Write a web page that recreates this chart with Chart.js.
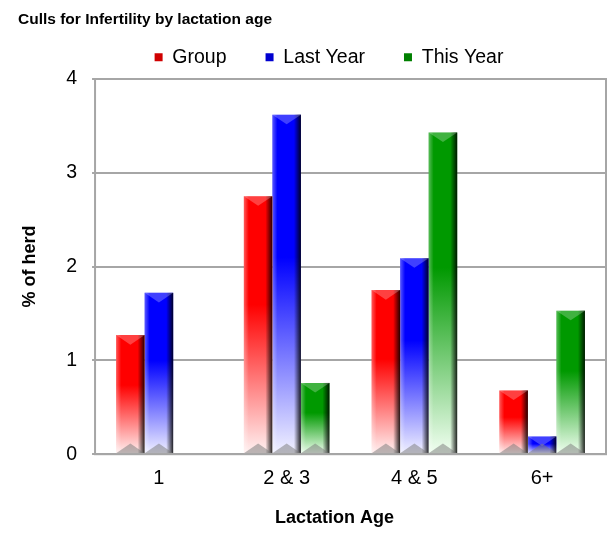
<!DOCTYPE html>
<html>
<head>
<meta charset="utf-8">
<script src="https://cdn.jsdelivr.net/npm/chart.js@4.4.1/dist/chart.umd.min.js"></script>
<style>
  html, body { margin: 0; padding: 0; background: #fff; }
  #wrap { width: 613px; height: 534px; }
</style>
</head>
<body>
<div id="wrap"><canvas id="grafico"></canvas></div>
<script>
// datos
const categorias = ["1", "2 & 3", "4 & 5", "6+"];
const grupo = [1.27, 2.75, 1.75, 0.68];
const anoPasado = [1.72, 3.62, 2.09, 0.19];
const esteAno = [null, 0.76, 3.43, 1.53];
const ticksY = [0, 1, 2, 3, 4];

const fuente = "'Liberation Sans', Arial, sans-serif";

// degradado vertical: color arriba, casi blanco abajo
function degradado(color, claro) {
  return function (ctx) {
    const chart = ctx.chart;
    const y = chart.scales.y;
    if (!y || ctx.raw == null) return color;
    const top = y.getPixelForValue(ctx.raw);
    const bottom = y.getPixelForValue(0);
    const g = chart.ctx.createLinearGradient(0, top, 0, bottom);
    g.addColorStop(0, color);
    g.addColorStop(0.42, color);
    g.addColorStop(1, claro);
    return g;
  };
}

// efecto biselado encima de cada barra
const bisel = {
  id: "bisel",
  afterDatasetsDraw(chart) {
    const c = chart.ctx;
    chart.data.datasets.forEach((ds, i) => {
      chart.getDatasetMeta(i).data.forEach((bar, j) => {
        if (ds.data[j] == null) return;
        const w = bar.width;
        const x0 = bar.x - w / 2, x1 = bar.x + w / 2;
        const top = bar.y, bottom = bar.base;
        const h = bottom - top;
        const b = Math.min(6, h / 2);
        c.save();
        // borde derecho oscuro
        let g = c.createLinearGradient(x1 - 7, 0, x1, 0);
        g.addColorStop(0, "rgba(0,0,0,0)");
        g.addColorStop(1, "rgba(0,0,0,0.85)");
        c.fillStyle = g;
        c.fillRect(x1 - 7, top, 7, h);
        // borde izquierdo claro
        g = c.createLinearGradient(x0, 0, x0 + 5, 0);
        g.addColorStop(0, "rgba(255,255,255,0.35)");
        g.addColorStop(1, "rgba(255,255,255,0)");
        c.fillStyle = g;
        c.fillRect(x0, top, 5, h);
        // bisel superior
        c.fillStyle = "rgba(255,255,255,0.25)";
        c.beginPath();
        c.moveTo(x0, top);
        c.lineTo(x1, top);
        c.lineTo(bar.x, top + b * 1.6);
        c.closePath();
        c.fill();
        // bisel inferior gris
        c.fillStyle = "rgba(120,120,120,0.5)";
        c.beginPath();
        c.moveTo(x0, bottom);
        c.lineTo(x1, bottom);
        c.lineTo(bar.x, bottom - b * 1.6);
        c.closePath();
        c.fill();
        c.restore();
      });
    });
  }
};

// marco del area de trazado
const marco = {
  id: "marco",
  afterDatasetsDraw(chart) {
    const a = chart.chartArea;
    const c = chart.ctx;
    c.save();
    c.strokeStyle = "#a6a6a6";
    c.lineWidth = 2;
    c.strokeRect(a.left, a.top, a.right - a.left, a.bottom - a.top);
    c.restore();
  }
};

// desplaza el titulo de una escala
function desplazarTitulo(escala, dx, dy) {
  if (!escala || escala._desplazado) return;
  const original = escala.drawTitle.bind(escala);
  escala.drawTitle = function () {
    const c = escala.ctx;
    c.save();
    c.translate(dx, dy);
    original();
    c.restore();
  };
  escala._desplazado = true;
}

// leyenda y titulo del eje x un poco fuera del centro, como en el original
const ajustes = {
  id: "ajustes",
  afterLayout(chart) {
    const l = chart.legend;
    if (l) {
      l.left += 17; l.right += 17;
      l.top -= 2; l.bottom -= 2;
    }
    desplazarTitulo(chart.scales.x, -16, 0);
  }
};

new Chart(document.getElementById("grafico"), {
  type: "bar",
  data: {
    labels: categorias,
    datasets: [
      { label: "Group", data: grupo, backgroundColor: degradado("#ff0000", "#fff2f2"), borderWidth: 0 },
      { label: "Last Year", data: anoPasado, backgroundColor: degradado("#0000ff", "#f2f2ff"), borderWidth: 0 },
      { label: "This Year", data: esteAno, backgroundColor: degradado("#009900", "#f2fff2"), borderWidth: 0 }
    ]
  },
  options: {
    responsive: true,
    maintainAspectRatio: false,
    animation: false,
    layout: { padding: { left: 18, right: 7, top: 0, bottom: 0 } },
    datasets: { bar: { categoryPercentage: 0.67, barPercentage: 1 } },
    plugins: {
      title: {
        display: true,
        text: "Culls for Infertility by lactation age",
        align: "start",
        color: "#000",
        font: { family: fuente, size: 15.5, weight: "bold" },
        padding: { top: 10.2, bottom: -18.3 }
      },
      legend: {
        position: "top",
        labels: {
          color: "#000",
          font: { family: fuente, size: 19.5 },
          boxWidth: 8,
          boxHeight: 8,
          padding: 39,
          generateLabels(chart) {
            const cols = ["#d00000", "#0000d0", "#008000"];
            return chart.data.datasets.map((ds, i) => ({
              text: ds.label, fillStyle: cols[i], strokeStyle: cols[i],
              lineWidth: 0, datasetIndex: i, fontColor: "#000"
            }));
          }
        }
      },
      tooltip: { enabled: false }
    },
    scales: {
      x: {
        grid: { display: false, drawTicks: false },
        border: { display: false },
        ticks: { color: "#000", font: { family: fuente, size: 20 }, padding: 12 },
        title: { display: true, text: "Lactation Age", color: "#000", font: { family: fuente, size: 18, weight: "bold" }, padding: { top: 5, bottom: 5.2 } }
      },
      y: {
        min: 0,
        max: 4,
        afterBuildTicks(axis) { axis.ticks = ticksY.map(v => ({ value: v })); },
        grid: { color: "#a6a6a6", lineWidth: 2, drawTicks: true, tickLength: 3 },
        border: { display: false },
        ticks: { color: "#000", font: { family: fuente, size: 19.5 }, padding: 15 },
        title: { display: true, text: "% of herd", color: "#000", font: { family: fuente, size: 18, weight: "bold" }, padding: { top: 1.2, bottom: 10.4 } }
      }
    }
  },
  plugins: [bisel, marco, ajustes]
});
</script>
</body>
</html>
